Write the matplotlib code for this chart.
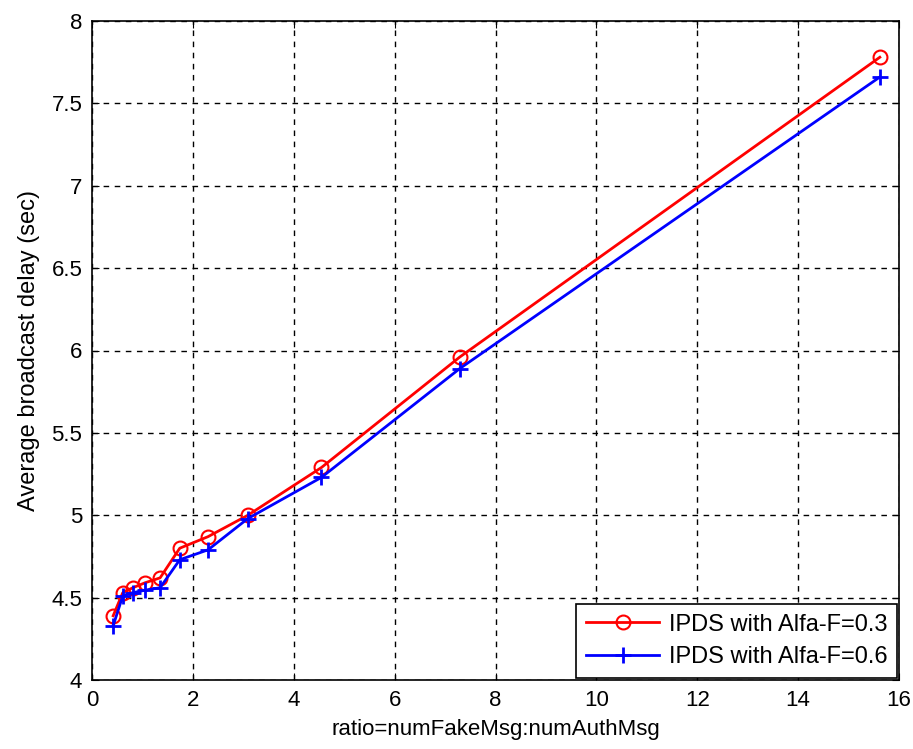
import numpy as np
import matplotlib.pyplot as plt

plt.rcParams['font.family'] = ['Liberation Sans', 'DejaVu Sans']

ratio = [0.42, 0.61, 0.81, 1.05, 1.35, 1.74, 2.3, 3.09, 4.55, 7.29, 15.62]
delay_03 = [4.39, 4.53, 4.56, 4.59, 4.62, 4.80, 4.87, 5.00, 5.29, 5.96, 7.78]
delay_06 = [4.33, 4.51, 4.53, 4.545, 4.56, 4.73, 4.79, 4.98, 5.23, 5.89, 7.66]

fig = plt.figure(figsize=(9.13, 7.49), dpi=100)
ax = fig.add_axes([92 / 913, 1 - 680 / 749, (899 - 92) / 913, (680 - 21) / 749])

ax.plot(ratio, delay_03, 'r-', marker='o', markersize=10, markerfacecolor='none',
        markeredgewidth=1.5, linewidth=2, label='IPDS with Alfa-F=0.3')
ax.plot(ratio, delay_06, 'b-', marker='+', markersize=12, markeredgewidth=2,
        linewidth=2, label='IPDS with Alfa-F=0.6')

ax.set_xlim(0, 16)
ax.set_ylim(4, 8)
ax.set_xticks(np.arange(0, 17, 2))
ax.set_yticks(np.arange(4, 8.01, 0.5))
ax.set_yticklabels(['4', '4.5', '5', '5.5', '6', '6.5', '7', '7.5', '8'])
ax.grid(True, color='black', linestyle=(0, (4, 4)), linewidth=1)
ax.tick_params(direction='in', top=True, right=True, labelsize=16, length=5, pad=7)
for s in ax.spines.values():
    s.set_linewidth(1.2)

ax.set_xlabel('ratio=numFakeMsg:numAuthMsg', fontsize=16, labelpad=6)
ax.set_ylabel('Average broadcast delay (sec)', fontsize=17, labelpad=8)

leg = ax.legend(loc='lower right', fontsize=17, fancybox=False, framealpha=1,
                edgecolor='black', borderaxespad=0.1, handlelength=3.1,
                labelspacing=0.45, handletextpad=0.4)
leg.get_frame().set_linewidth(1.2)

fig.savefig('out.png', dpi=100)
